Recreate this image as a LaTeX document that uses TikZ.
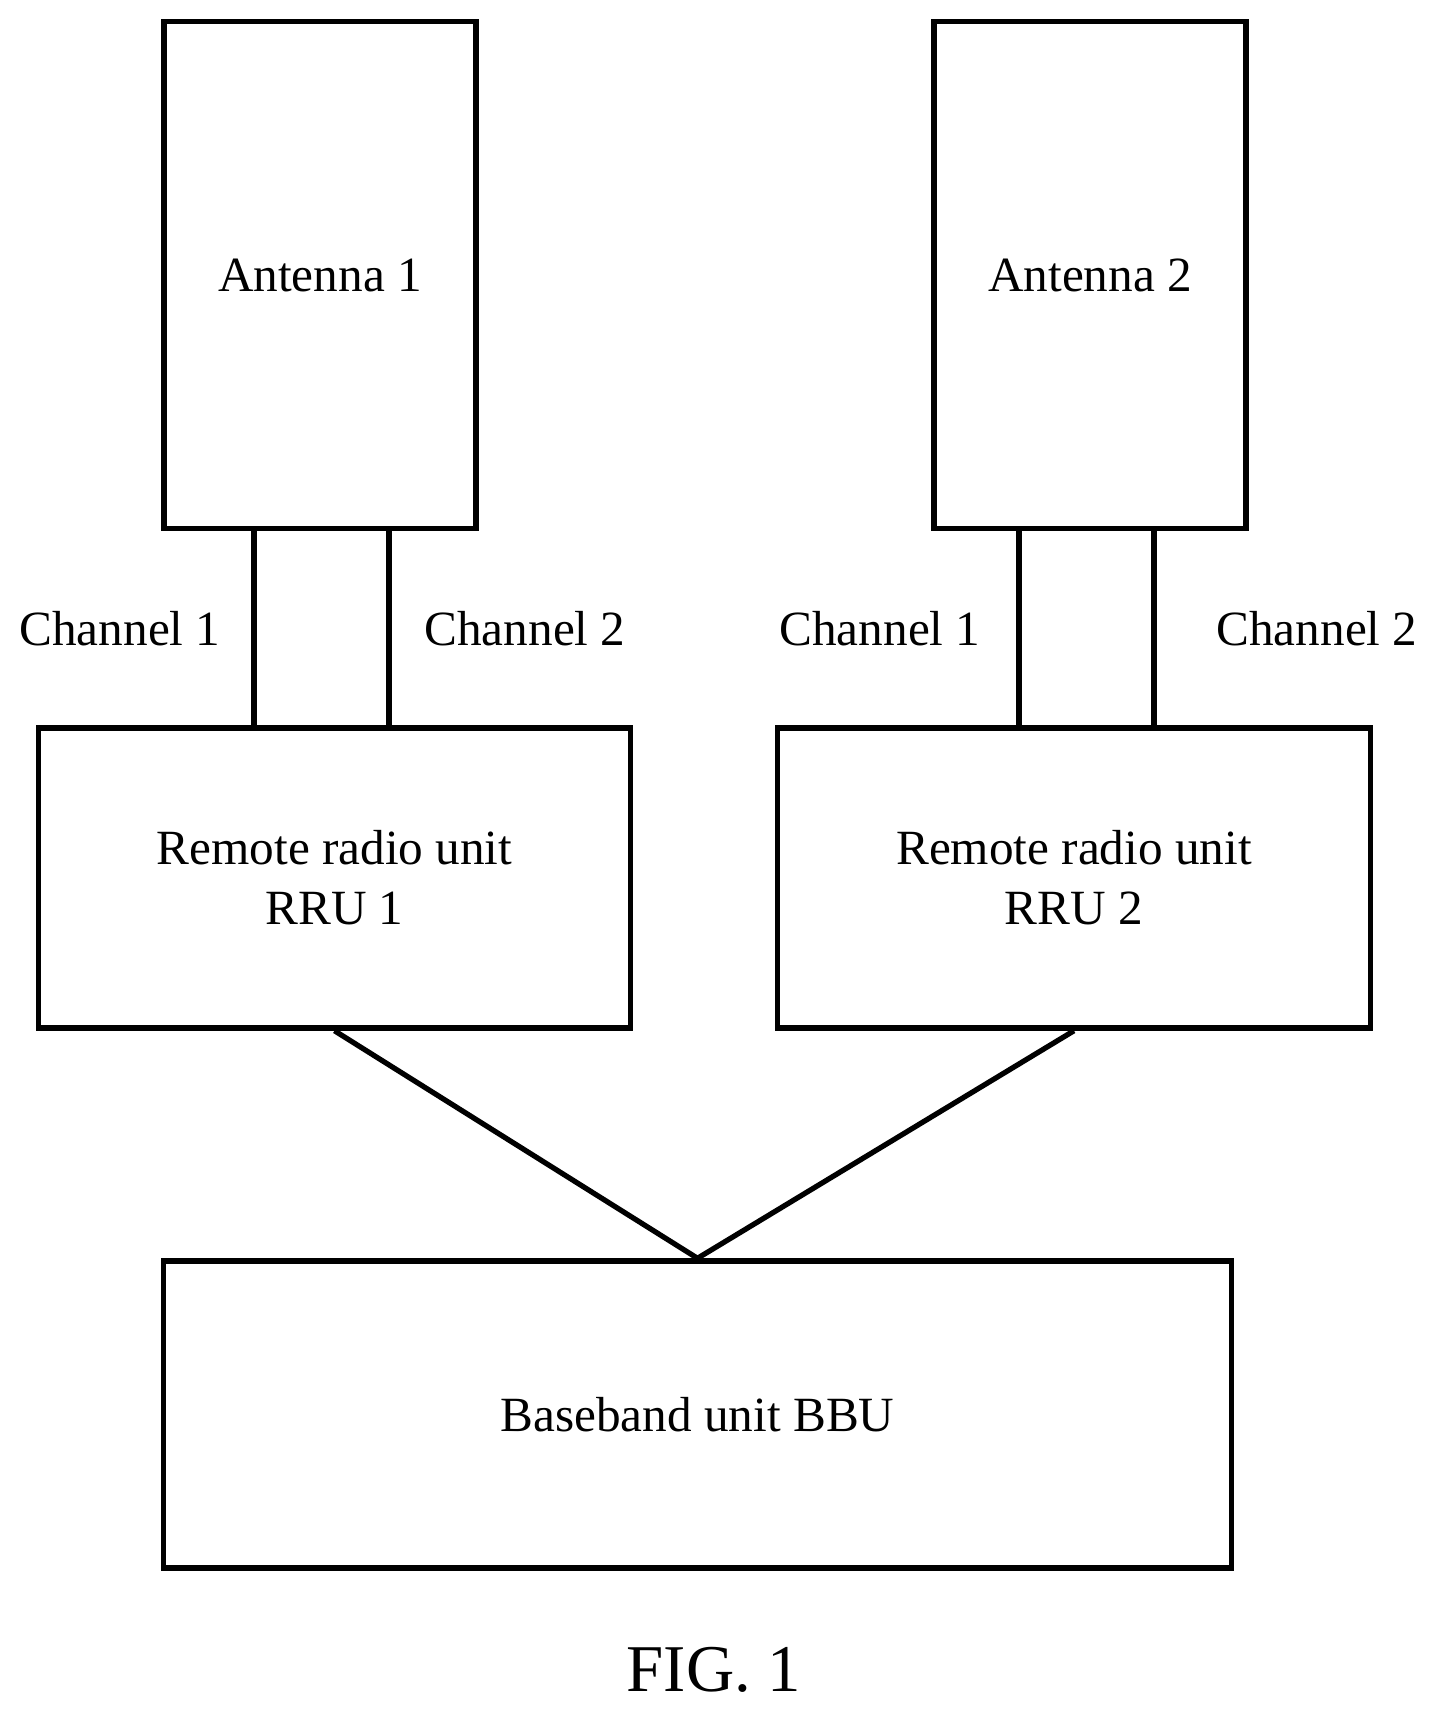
\documentclass[tikz,border=0pt]{standalone}
\usepackage{fontspec}
\setmainfont{Liberation Serif}
\tikzset{
  box/.style={draw, line width=1.5pt, rectangle, inner sep=0pt, font=\fontsize{14}{17}\selectfont, align=center},
  lbl/.style={font=\fontsize{14}{17}\selectfont},
  wire/.style={line width=1.5pt}
}
\begin{document}
\begin{tikzpicture}[x=0.01cm,y=-0.01cm]
\useasboundingbox (0,0) rectangle (1443,1716);
\node[box, minimum width=3.12cm, minimum height=5.06cm] (ant1) at (320,275) {Antenna 1};
\node[box, minimum width=3.12cm, minimum height=5.06cm] (ant2) at (1090,275) {Antenna 2};
\node[box, minimum width=5.91cm, minimum height=3.00cm] (rru1) at (334.5,878) {Remote radio unit\\RRU 1};
\node[box, minimum width=5.92cm, minimum height=3.00cm] (rru2) at (1074,878) {Remote radio unit\\RRU 2};
\node[box, minimum width=10.67cm, minimum height=3.07cm] (bbu) at (697.5,1414.5) {Baseband unit BBU};
% channels
\foreach \x in {254,389} \draw[wire] (\x,528) -- (\x,728);
\foreach \x in {1019,1154} \draw[wire] (\x,528) -- (\x,728);
\node[lbl] (c11) at (120,629) {Channel 1};
\node[lbl] (c12) at (525,629) {Channel 2};
\node[lbl] (c21) at (880,629) {Channel 1};
\node[lbl] (c22) at (1317,629) {Channel 2};
% links to BBU
\draw[wire] (rru1.south) -- (bbu.north) -- (rru2.south);
\node[font=\fontsize{19}{22}\selectfont] (fig) at (714,1670) {FIG. 1};
\end{tikzpicture}
\end{document}
